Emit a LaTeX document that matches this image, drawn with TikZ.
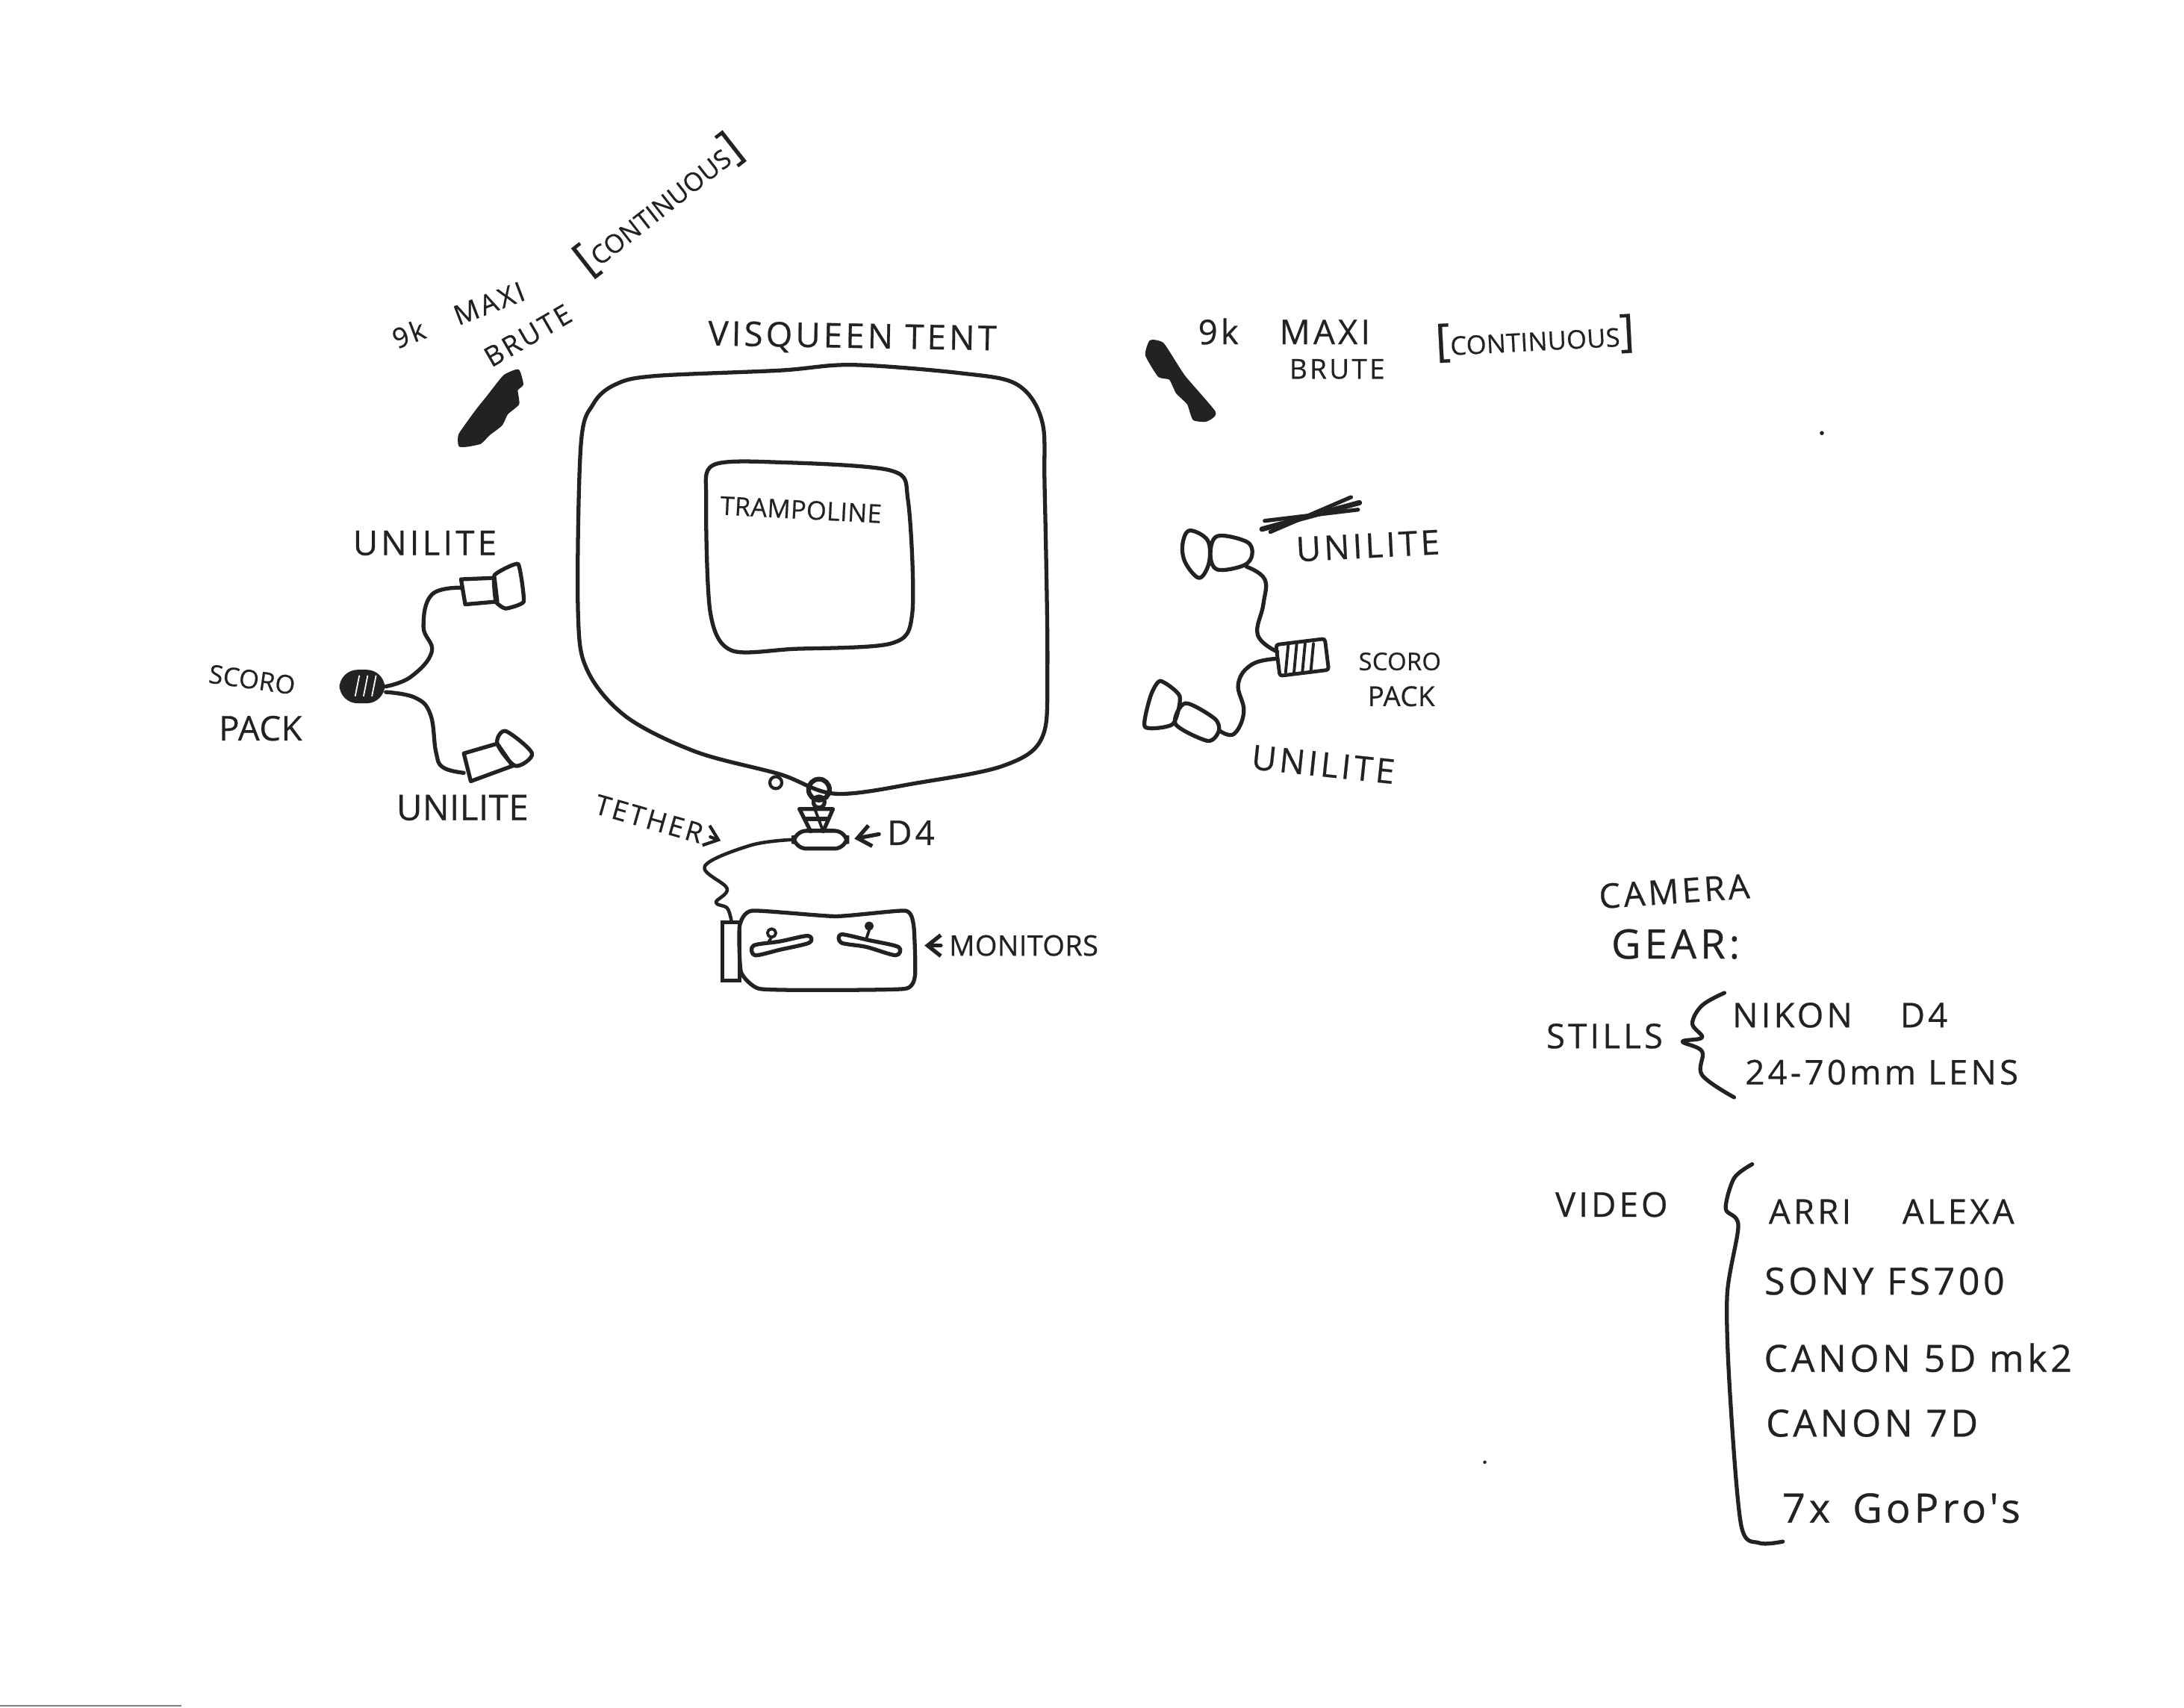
\documentclass[tikz,border=0pt]{standalone}
\usepackage{fontspec}
\usetikzlibrary{arrows.meta}
\newfontfamily\handfont[LetterSpace=9, FakeBold=0.5]{Open Sans}
\newfontfamily\handtightfont[LetterSpace=1, FakeBold=0.5]{Open Sans}
\definecolor{ink}{HTML}{222222}
\tikzset{
    pen/.style={draw=ink, line width=1.5pt, line cap=round, line join=round},
    thinpen/.style={draw=ink, line width=1.1pt, line cap=round, line join=round},
    blob/.style={fill=ink, draw=ink, line width=0.8pt, line join=round},
    hand/.style={text=ink, inner sep=0pt, font=\handfont\fontsize{13}{13}\selectfont},
    handsmall/.style={text=ink, inner sep=0pt, font=\handfont\fontsize{10.5}{11}\selectfont},
    handmid/.style={text=ink, inner sep=0pt, font=\handfont\fontsize{14.3}{15}\selectfont},
    handbig/.style={text=ink, inner sep=0pt, font=\handfont\fontsize{15.5}{16}\selectfont},
    handtight/.style={text=ink, inner sep=0pt, font=\handtightfont\fontsize{#1}{#1}\selectfont},
    handtight/.default=9.8,
    pointer/.style={pen, shorten >=2pt, shorten <=3pt, -{Straight Barb[length=5pt, width=8pt]}}
}
\newcommand{\bigbr}[1]{{\fontsize{17}{17}\selectfont #1}}
\begin{document}
\begin{tikzpicture}[x=0.018654cm, y=-0.018654cm]
    \useasboundingbox (0,0) rectangle (1568,1226.5);
    \fill[white] (0,0) rectangle (1568,1226.5);
    % tent and trampoline
    \draw[pen] plot[smooth cycle, tension=0.55] coordinates {(470,270) (560,266) (612,262) (690,268) (730,276) (748,302) (750,350) (752,480) (748,530) (720,550) (660,562) (600,570) (560,556) (500,540) (450,515) (422,482) (415,440) (417,320) (426,290) (442,276)};
    \draw[pen] plot[smooth cycle, tension=0.5] coordinates {(512,334) (560,332) (640,338) (652,360) (655,440) (640,462) (570,466) (525,467) (510,440) (507,360)};
    \node[hand] (tentlabel) at (612,243) [rotate=-1] {VISQUEEN TENT};
    \node[handtight] (tramplabel) at (575,366) [rotate=-3] {TRAMPOLINE};
    % big lights
    \fill[blob] plot[smooth cycle, tension=0.3] coordinates {(372,266) (375,276) (371,280) (372,290) (364,297) (360,305) (351,312) (345,318) (336,320) (330,320) (330,312) (342,295) (350,285) (362,270)};
    \fill[blob] plot[smooth cycle, tension=0.3] coordinates {(826,245) (835,247) (850,270) (872,296) (866,302) (857,301) (853,290) (845,282) (840,272) (832,270) (823,255)};
    \node[handsmall] (maxileft) at (329,226) [rotate=21] {9k\hspace{1.2em}MAXI};
    \node[handsmall] (bruteleft) at (379,241) [rotate=30] {BRUTE};
    \node[handtight] (contleft) at (473,147) [rotate=38] {\bigbr{[}CONTINUOUS\bigbr{]}};
    \node[hand] (maxiright) at (922,238) {9k\hspace{1.2em}MAXI};
    \node[handsmall] (bruteright) at (960,265) {BRUTE};
    \node[handtight] (contright) at (1102,243) [rotate=3] {\bigbr{[}CONTINUOUS\bigbr{]}};
    % left side
    \node[fill=ink, rounded corners=7pt, minimum width=0.61cm, minimum height=0.45cm, inner sep=0pt] (scoroleft) at (260,493) {};
    \foreach \i in {258,264,270} {
        \draw[white, line width=0.5pt] (\i,485) -- (\i-3,500);
    }
    \draw[pen] (331,416) -- (355,415) -- (357,432) -- (334,434) -- cycle;
    \draw[pen] plot[smooth cycle, tension=0.25] coordinates {(355,413) (372,405) (376,432) (363,437) (356,432)};
    \coordinate (lampa) at (331,422);
    \draw[pen] plot[smooth, tension=0.7] coordinates {(scoroleft.east) (295,486) (310,468) (304,450) (310,427) (lampa)};
    \draw[pen] (333,541) -- (357,534) -- (368,550) -- (338,561) -- cycle;
    \draw[pen] plot[smooth cycle, tension=0.5] coordinates {(357,534) (363,525) (382,541) (370,550)};
    \coordinate (lampb) at (333,555);
    \draw[pen] plot[smooth, tension=0.7] coordinates {(277,497) (298,501) (309,513) (313,540) (318,551) (lampb)};
    \node[hand] (uniliteA) at (305,390) {UNILITE};
    \node[handtight=13.5] (uniliteB) at (332,580) {UNILITE};
    \node[handtight] (scoroa) at (181,488) [rotate=-8] {SCORO};
    \node[handtight=13] (packa) at (187,523) {PACK};
    % right side
    \draw[pen] plot[smooth cycle, tension=0.6] coordinates {(854,381) (867,388) (868,404) (861,415) (851,404) (849,391)};
    \draw[pen] plot[smooth cycle, tension=0.6] coordinates {(874,385) (895,389) (899,398) (893,406) (874,409) (869,398)};
    \node[draw=ink, line width=1.4pt, rounded corners=1pt, rotate=7, minimum width=0.66cm, minimum height=0.42cm, inner sep=0pt] (scororight) at (935,472) {};
    \foreach \i in {925,931,937,943} {
        \draw[thinpen] (\i,462) -- (\i-2,483);
    }
    \coordinate (lampc) at (895,407);
    \coordinate (lampd) at (876,525);
    \draw[pen] plot[smooth, tension=0.7] coordinates {(lampc) (908,416) (907,434) (903,456) (917,468)};
    \draw[pen] plot[smooth, tension=0.7] coordinates {(917,473) (899,477) (889,491) (893,511) (886,527) (lampd)};
    \draw[pen] plot[smooth cycle, tension=0.5] coordinates {(851,505) (872,516) (875,525) (867,532) (844,520)};
    \draw[pen] plot[smooth cycle, tension=0.4] coordinates {(833,489) (847,500) (842,520) (822,522) (826,500)};
    \draw[pen, line width=2pt] (906,380) -- (976,361);
    \draw[pen] (908,374) -- (975,366);
    \draw[pen] (912,382) -- (970,357);
    \node[hand] (uniliteC) at (982,392) [rotate=3] {UNILITE};
    \node[hand] (uniliteD) at (950,549) [rotate=-6] {UNILITE};
    \node[handtight=9.3] (scorob) at (1005,475) {SCORO};
    \node[handtight=10.5] (packb) at (1006,500) {PACK};
    % camera
    \node[draw=ink, line width=1.8pt, circle, minimum size=0.28cm, inner sep=0pt] (lens) at (588,567) {};
    \node[draw=ink, line width=1.2pt, circle, minimum size=0.16cm, inner sep=0pt] (cap) at (557,562) {};
    \node[draw=ink, line width=1.5pt, rounded corners=5pt, minimum width=0.72cm, minimum height=0.24cm, inner sep=0pt] (dfour) at (589,603) {};
    \draw[pen] (588,576) circle (4);
    \draw[pen] (574,581) -- (598,581) -- (591,597);
    \draw[pen] (574,581) -- (582,597);
    \draw[pen] (579,588) -- (594,588);
    \draw[thinpen] (585,581) -- (591,597);
    \node[hand] (dlabel) at (654,598) {D4};
    \draw[pointer] (dlabel.west) -- (dfour.east);
    % monitors
    \draw[pen] plot[smooth cycle, tension=0.3] coordinates {(540,654) (600,658) (650,654) (656,665) (657,700) (650,710) (590,711) (545,710) (532,698) (531,665)};
    \node[draw=ink, line width=1.4pt, minimum width=0.23cm, minimum height=0.78cm, inner sep=0pt] (strip) at (525,683) {};
    \draw[pen] plot[smooth cycle, tension=0.5] coordinates {(541,679) (560,676) (580,672) (581,677) (560,682) (542,686)};
    \draw[pen] plot[smooth cycle, tension=0.5] coordinates {(604,671) (623,675) (645,680) (643,686) (622,680) (604,677)};
    \draw[thinpen] (554,670) circle (3);
    \draw[thinpen] (554,673) -- (552,676);
    \fill[blob] (624,665) circle (2.5);
    \draw[thinpen] (624,668) -- (622,674);
    \node[handtight=10.8] (monlabel) at (735,679) {MONITORS};
    \draw[pointer] (monlabel.west) -- (660,679);
    % tether
    \draw[thinpen, line width=1.3pt] plot[smooth, tension=0.6] coordinates {(dfour.west) (539,607) (506,622) (522,638) (514,648) (522,652) (strip.north)};
    \node[handsmall] (tetherlabel) at (466,588) [rotate=-16] {TETHER};
    \coordinate (tetherend) at (521,605);
    \draw[pointer, line width=1.2pt] (tetherlabel.east) -- (tetherend);
    % gear list
    \node[hand] (gearA) at (1202,640) [rotate=4] {CAMERA};
    \node[handbig] (gearB) at (1203,678) {GEAR:};
    \node[hand] (stills) at (1152,744) {STILLS};
    \draw[pen] plot[smooth, tension=0.6] coordinates {(1238,713) (1222,722) (1215,735) (1222,745) (1208,748) (1222,755) (1222,772) (1245,788)};
    \node[hand] (nikon) at (1321,729) {NIKON\hspace{1.4em}D4};
    \node[hand] (lensname) at (1351,770) {24-70mm LENS};
    \node[hand] (video) at (1157,865) {VIDEO};
    \draw[pen] plot[smooth, tension=0.5] coordinates {(1258,836) (1245,846) (1239,868) (1248,880) (1240,930) (1242,1000) (1250,1095) (1263,1108) (1280,1107)};
    \node[hand] (arri) at (1358,870) {ARRI\hspace{1.5em}ALEXA};
    \node[handmid] (sony) at (1353,920) {SONY FS700};
    \node[handmid] (canona) at (1377,975) {CANON 5D mk2};
    \node[handmid] (canonb) at (1344,1022) {CANON 7D};
    \node[handbig] (gopro) at (1365,1083) {7x\hspace{0.2em} GoPro's};
    % specks and scan edge
    \fill[ink] (1308,311) circle (1.5);
    \fill[ink] (1066,1050) circle (1.2);
    \draw[gray, line width=0.6pt] (0,1225) -- (130,1225);
\end{tikzpicture}
\end{document}
